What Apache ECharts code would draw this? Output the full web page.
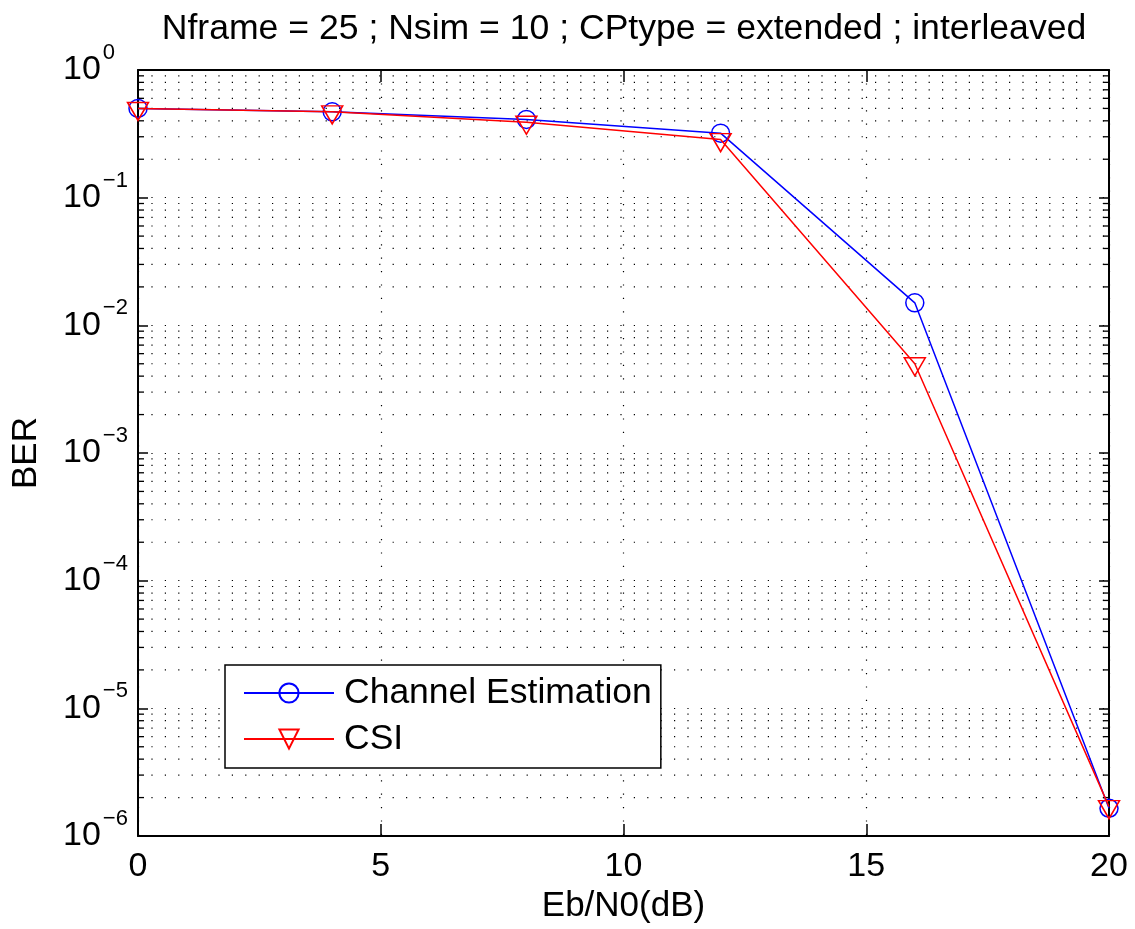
<!DOCTYPE html>
<html>
<head>
<meta charset="utf-8">
<title>BER vs Eb/N0</title>
<script src="https://cdn.jsdelivr.net/npm/echarts@6/dist/echarts.min.js"></script>
<style>
  html, body { margin: 0; padding: 0; background: #fff; }
  #chart { width: 1135px; height: 929px; }
</style>
</head>
<body>
<div id="chart"></div>
<script>
// Simulated bit error rate against Eb/N0
const ebn0 = [0, 4, 8, 12, 16, 20];
const berChannelEstimation = [0.50, 0.47, 0.41, 0.32, 0.015, 1.65e-6];
const berCSI = [0.50, 0.47, 0.39, 0.285, 0.005, 1.7e-6];
const seriesNames = ['Channel Estimation', 'CSI'];
const titleText = 'Nframe = 25 ; Nsim = 10 ; CPtype = extended ; interleaved';
const xAxisName = 'Eb/N0(dB)';
const yAxisName = 'BER';
const xTickStep = 5;
const decadeExponents = [-6, -5, -4, -3, -2, -1, 0];
const minorMultipliers = [2, 3, 4, 5, 6, 7, 8, 9];

const FONT = "'Liberation Sans', Arial, Helvetica, sans-serif";
const dotted = [1.2, 12.2];

// Minor log grid values (2..9 within each decade)
const minorValues = [];
decadeExponents.slice(0, -1).forEach(function (e) {
  minorMultipliers.forEach(function (m) {
    minorValues.push(Number((m * Math.pow(10, e)).toPrecision(3)));
  });
});

function pairs(xs, ys) {
  return xs.map(function (x, i) { return [x, ys[i]]; });
}

function expLabel(v) {
  const e = Math.round(Math.log10(v));
  const sup = e < 0 ? '\u2212' + (-e) : String(e);
  return '{b|10}{s|' + sup + '}';
}

const chart = echarts.init(document.getElementById('chart'), null, { renderer: 'canvas' });

const yMin = Math.pow(10, decadeExponents[0]);
const yMax = Math.pow(10, decadeExponents[decadeExponents.length - 1]);

const option = {
  backgroundColor: '#fff',
  animation: false,
  textStyle: { fontFamily: FONT },
  grid: { left: 138, right: 26, top: 70, bottom: 93, containLabel: false },
  graphic: [{
    type: 'text',
    x: 624,
    y: 29,
    style: {
      text: titleText,
      font: '35.6px ' + FONT,
      fill: '#000',
      textAlign: 'center',
      textVerticalAlign: 'middle'
    }
  }],
  legend: {
    orient: 'vertical',
    left: 225,
    top: 665,
    padding: [8, 9, 9, 18],
    itemGap: 6,
    itemWidth: 90,
    itemHeight: 24,
    backgroundColor: '#fff',
    borderColor: '#000',
    borderWidth: 1.5,
    borderRadius: 0,
    data: seriesNames,
    textStyle: { fontSize: 35.5, fontFamily: FONT, color: '#000', lineHeight: 40, padding: [0, 0, 0, 5] },
    selectedMode: false
  },
  xAxis: [{
    type: 'value',
    min: ebn0[0],
    max: ebn0[ebn0.length - 1],
    interval: xTickStep,
    name: xAxisName,
    nameLocation: 'middle',
    nameGap: 34,
    nameTextStyle: { fontSize: 35, fontFamily: FONT, color: '#000' },
    axisLine: { show: true, onZero: false, lineStyle: { color: '#000', width: 2 } },
    axisTick: { show: true, inside: true, length: 12, lineStyle: { color: '#000', width: 1.5 } },
    axisLabel: { show: true, margin: 14, fontSize: 34, fontFamily: FONT, color: '#000', showMinLabel: true, showMaxLabel: true },
    splitLine: { show: true, lineStyle: { color: '#000', width: 1.2, type: dotted } }
  }, {
    type: 'value',
    position: 'top',
    min: ebn0[0],
    max: ebn0[ebn0.length - 1],
    interval: xTickStep,
    axisLine: { show: true, onZero: false, lineStyle: { color: '#000', width: 2 } },
    axisTick: { show: true, inside: true, length: 12, lineStyle: { color: '#000', width: 1.5 } },
    axisLabel: { show: false },
    splitLine: { show: false }
  }],
  yAxis: [{
    type: 'log',
    logBase: 10,
    min: yMin,
    max: yMax,
    interval: 1,
    name: yAxisName,
    nameLocation: 'middle',
    nameRotate: 90,
    nameGap: 94,
    nameTextStyle: { fontSize: 35, fontFamily: FONT, color: '#000' },
    axisLine: { show: true, onZero: false, lineStyle: { color: '#000', width: 2 } },
    axisTick: { show: true, inside: true, length: 10, lineStyle: { color: '#000', width: 1.5 } },
    axisLabel: {
      show: true,
      align: 'left',
      margin: 75,
      showMinLabel: true,
      showMaxLabel: true,
      formatter: expLabel,
      rich: {
        b: { fontSize: 34, fontFamily: FONT, color: '#000' },
        s: { fontSize: 22, fontFamily: FONT, color: '#000', padding: [0, 0, 34, 2] }
      }
    },
    splitLine: { show: true, lineStyle: { color: '#000', width: 1.2, type: dotted } }
  }, {
    type: 'log',
    logBase: 10,
    position: 'right',
    min: yMin,
    max: yMax,
    interval: 1,
    axisLine: { show: true, onZero: false, lineStyle: { color: '#000', width: 2 } },
    axisTick: { show: true, inside: true, length: 10, lineStyle: { color: '#000', width: 1.5 } },
    axisLabel: { show: false },
    splitLine: { show: false }
  }],
  series: [{
    // minor log gridlines and inward minor ticks on both vertical edges
    type: 'custom',
    name: 'minor grid',
    xAxisIndex: 0,
    yAxisIndex: 0,
    silent: true,
    z: 1,
    data: minorValues.map(function (v) { return [ebn0[0], v]; }),
    renderItem: function (params, api) {
      const cs = params.coordSys;
      const y = api.coord([api.value(0), api.value(1)])[1];
      const left = cs.x;
      const right = cs.x + cs.width;
      return {
        type: 'group',
        children: [
          { type: 'line', shape: { x1: left, y1: y, x2: right, y2: y },
            style: { stroke: '#000', lineWidth: 1.2, lineDash: dotted } },
          { type: 'line', shape: { x1: left, y1: y, x2: left + 6, y2: y },
            style: { stroke: '#000', lineWidth: 1.3 } },
          { type: 'line', shape: { x1: right - 6, y1: y, x2: right, y2: y },
            style: { stroke: '#000', lineWidth: 1.3 } }
        ]
      };
    }
  }, {
    type: 'line',
    name: seriesNames[0],
    z: 3,
    data: pairs(ebn0, berChannelEstimation),
    symbol: 'circle',
    symbolSize: 18,
    showAllSymbol: true,
    lineStyle: { color: '#0000ff', width: 1.5 },
    itemStyle: { color: 'rgba(0,0,0,0)', borderColor: '#0000ff', borderWidth: 1.5 },
    emphasis: { disabled: true }
  }, {
    type: 'line',
    name: seriesNames[1],
    z: 4,
    data: pairs(ebn0, berCSI),
    symbol: 'triangle',
    symbolSize: [21, 18],
    symbolRotate: 180,
    symbolOffset: [0, 3],
    showAllSymbol: true,
    lineStyle: { color: '#ff0000', width: 1.5 },
    itemStyle: { color: 'rgba(0,0,0,0)', borderColor: '#ff0000', borderWidth: 1.5 },
    emphasis: { disabled: true }
  }]
};

chart.setOption(option);
</script>
</body>
</html>
